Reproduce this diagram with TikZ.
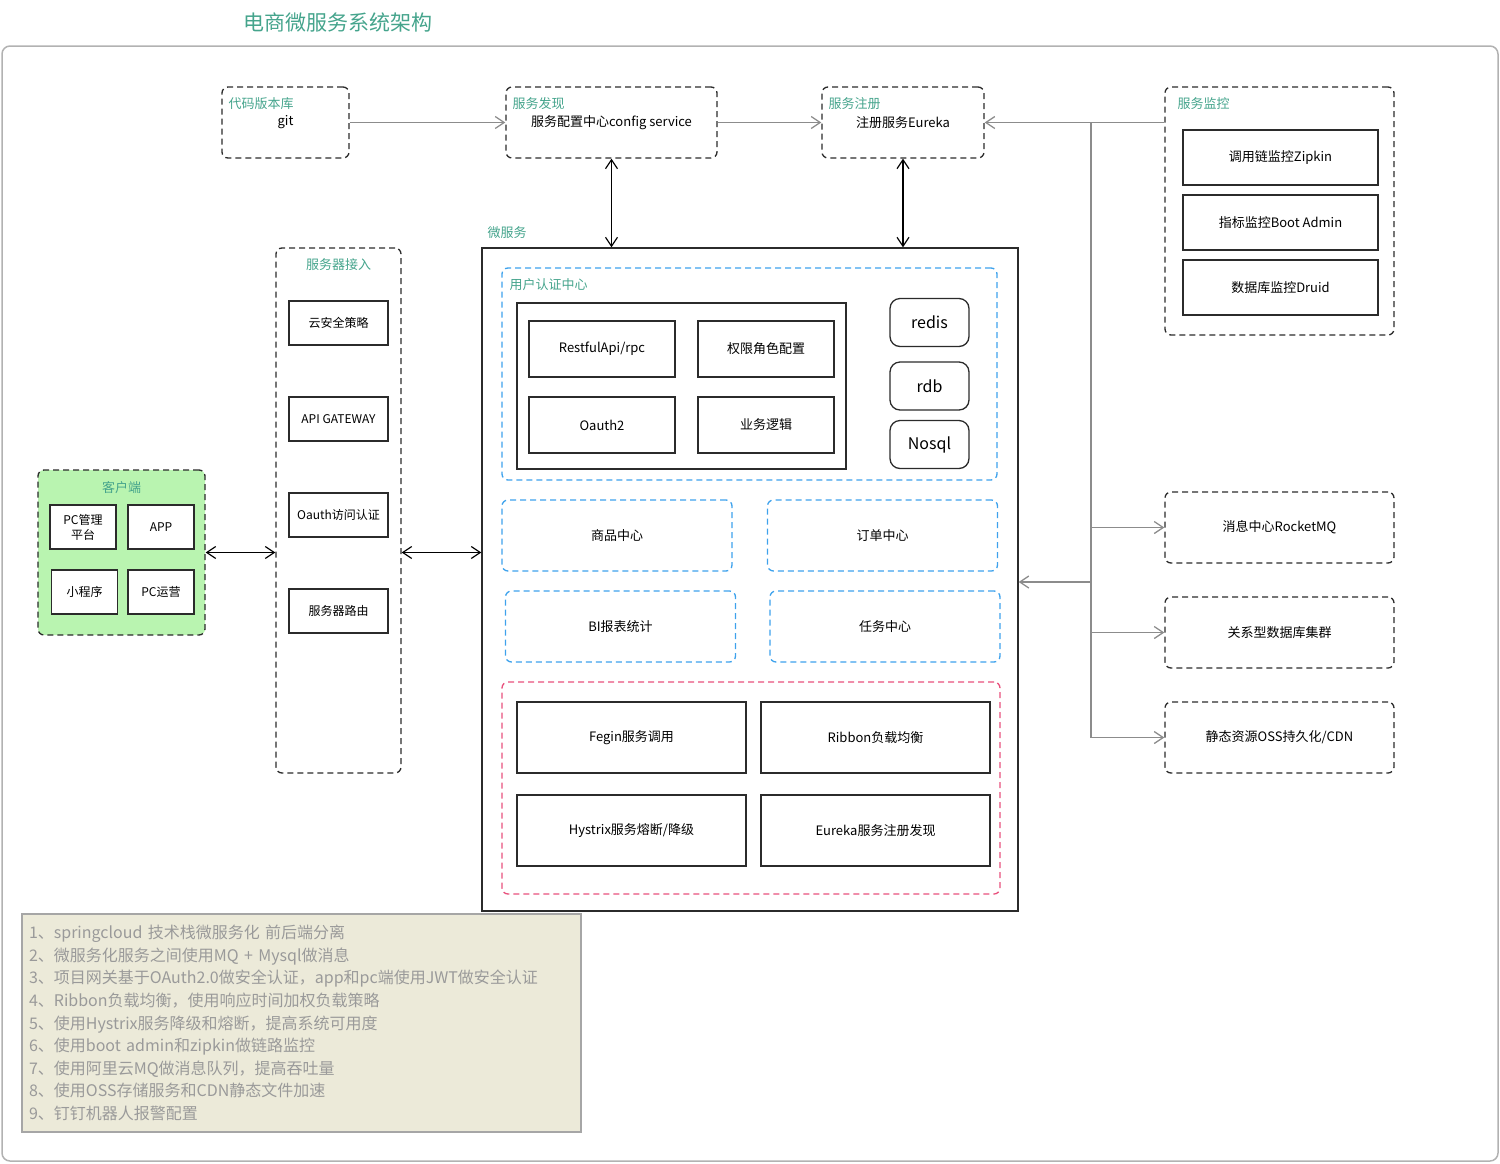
\documentclass[tikz,border=0pt]{standalone}
\usepackage{fontspec}
\setmainfont{Noto Sans CJK SC}
\usepackage{xcolor}
\usepackage{tikz}
\usetikzlibrary{arrows.meta,positioning}

\definecolor{tealtag}{HTML}{45A48C}
\definecolor{bluedash}{HTML}{3EA2EC}
\definecolor{reddash}{HTML}{E8507C}
\definecolor{wiregray}{HTML}{8C8C8C}
\definecolor{notefill}{HTML}{ECEAD9}
\definecolor{notetext}{HTML}{9A9A9A}
\definecolor{clientfill}{HTML}{B9F4B0}
\definecolor{linedark}{HTML}{2B2B2B}

\begin{document}
\begin{tikzpicture}[
  x=1pt, y=-1pt,
  node distance=8.7pt,
  >={Straight Barb[length=9pt,width=12pt]},
  every node/.style={font=\fontsize{13pt}{16pt}\selectfont, inner sep=2pt},
  titletext/.style={text=tealtag, font=\fontsize{21pt}{24pt}\selectfont},
  frame/.style={draw=black!30, line width=1.5pt, rounded corners=8pt},
  grp/.style={draw=linedark, line width=1.3pt, dash pattern=on 6pt off 4pt, rounded corners=6pt},
  bluegrp/.style={draw=bluedash, line width=1.3pt, dash pattern=on 6pt off 4pt, rounded corners=6pt},
  redgrp/.style={draw=reddash, line width=1.3pt, dash pattern=on 6pt off 4pt, rounded corners=6pt},
  box/.style={draw=linedark, line width=1.3pt},
  item/.style={draw=linedark, line width=1.3pt, fill=white, align=center},
  gate/.style={item, minimum width=99pt, minimum height=44pt, font=\fontsize{12pt}{15pt}\selectfont},
  cbox/.style={item, minimum width=66pt, minimum height=44pt, font=\fontsize{12pt}{15pt}\selectfont},
  store/.style={draw=linedark, line width=1.3pt, rounded corners=10pt, minimum width=79pt, minimum height=48pt, font=\fontsize{16pt}{19pt}\selectfont},
  tag/.style={text=tealtag, anchor=north west, inner sep=0pt},
  notebox/.style={draw=black!35, line width=1.2pt, fill=notefill, text=notetext, align=left, inner xsep=7pt, font=\fontsize{16pt}{22.6pt}\selectfont},
  link/.style={->, draw=wiregray, line width=1.3pt},
  wire/.style={draw=wiregray, line width=1.3pt},
  biarrow/.style={<->, draw=black, line width=1.2pt}
]
\useasboundingbox (0,0) rectangle (1500,1163);

\node[titletext] (title) at (338,22) {电商微服务系统架构};
\draw[frame] (2,46) rectangle (1498,1161);

\node[grp, minimum width=127pt, minimum height=71pt] (repo) at (285.5,122.5) {git};
\node[tag] at ([xshift=7pt,yshift=-11pt]repo.north west) {代码版本库};
\node[grp, minimum width=211pt, minimum height=71pt] (disc) at (611.5,122.5) {服务配置中心config service};
\node[tag] at ([xshift=7pt,yshift=-11pt]disc.north west) {服务发现};
\node[grp, minimum width=162pt, minimum height=71pt] (reg) at (903,122.5) {注册服务Eureka};
\node[tag] at ([xshift=7pt,yshift=-11pt]reg.north west) {服务注册};

\node[grp, minimum width=229pt, minimum height=248pt] (mon) at (1279.5,211) {};
\node[tag] at ([xshift=13pt,yshift=-11pt]mon.north west) {服务监控};
\node[item, minimum width=195pt, minimum height=55pt] (zipkin) at (1280.5,157.5) {调用链监控Zipkin};
\node[item, minimum width=195pt, minimum height=55pt, below=of zipkin] (bootadm) {指标监控Boot Admin};
\node[item, minimum width=195pt, minimum height=55pt, below=of bootadm] (druid) {数据库监控Druid};

\node[grp, minimum width=229pt, minimum height=71pt] (mq) at (1279.5,527.5) {消息中心RocketMQ};
\node[grp, minimum width=229pt, minimum height=71pt, below=32.7pt of mq] (rdbms) {关系型数据库集群};
\node[grp, minimum width=229pt, minimum height=71pt, below=32.7pt of rdbms] (oss) {静态资源OSS持久化/CDN};

\node[box, minimum width=536pt, minimum height=663pt] (ms) at (750,579.5) {};
\node[tag, anchor=south west] at ([xshift=6pt,yshift=9pt]ms.north west) {微服务};

\node[bluegrp, minimum width=495pt, minimum height=212pt] (auth) at (749.5,374) {};
\node[tag] at ([xshift=8pt,yshift=-11pt]auth.north west) {用户认证中心};
\node[box, minimum width=329pt, minimum height=166pt] (core) at (681.5,386) {};
\node[item, minimum width=146pt, minimum height=56pt] (restapi) at (602,349) {RestfulApi/rpc};
\node[item, minimum width=136pt, minimum height=56pt] (perm) at (766,349) {权限角色配置};
\node[item, minimum width=146pt, minimum height=56pt] (oauth) at (602,425) {Oauth2};
\node[item, minimum width=136pt, minimum height=56pt] (logic) at (766,425) {业务逻辑};
\node[store] (redis) at (929.5,322.5) {redis};
\node[store] (rdb) at (929.5,386) {rdb};
\node[store] (nosql) at (929.5,444.5) {Nosql};

\node[bluegrp, minimum width=230pt, minimum height=71pt] (goods) at (617,535.5) {商品中心};
\node[bluegrp, minimum width=230pt, minimum height=71pt] (order) at (882.5,535.5) {订单中心};
\node[bluegrp, minimum width=230pt, minimum height=71pt] (bi) at (620.5,626.5) {BI报表统计};
\node[bluegrp, minimum width=230pt, minimum height=71pt] (task) at (885,626.5) {任务中心};

\node[redgrp, minimum width=498pt, minimum height=212pt] (infra) at (751,788) {};
\node[item, minimum width=229pt, minimum height=71pt] (feign) at (631.5,737.5) {Fegin服务调用};
\node[item, minimum width=229pt, minimum height=71pt] (ribbon) at (875.5,737.5) {Ribbon负载均衡};
\node[item, minimum width=229pt, minimum height=71pt] (hystrix) at (631.5,830.5) {Hystrix服务熔断/降级};
\node[item, minimum width=229pt, minimum height=71pt] (eureka) at (875.5,830.5) {Eureka服务注册发现};

\node[grp, minimum width=125pt, minimum height=525pt] (access) at (338.5,510.5) {};
\node[tag, anchor=north] at ([yshift=-11pt]access.north) {服务器接入};
\node[gate] (cloudsec) at (338.5,323) {云安全策略};
\node[gate, below=50.7pt of cloudsec] (gateway) {API GATEWAY};
\node[gate, below=50.7pt of gateway] (oauthgw) {Oauth访问认证};
\node[gate, below=50.7pt of oauthgw] (router) {服务器路由};

\node[grp, fill=clientfill, minimum width=167pt, minimum height=165pt] (client) at (121.5,552.5) {};
\node[tag, anchor=north] at ([yshift=-12pt]client.north) {客户端};
\node[cbox] (pcadmin) at (83,527) {PC管理\\平台};
\node[cbox] (app) at (161,527) {APP};
\node[cbox] (mini) at (84.5,592) {小程序};
\node[cbox] (pcops) at (161,592) {PC运营};

\node[notebox, minimum height=218pt, text width=545pt] (notes) at (301.5,1023) {1、springcloud 技术栈微服务化 前后端分离\\
2、微服务化服务之间使用MQ + Mysql做消息\\
3、项目网关基于OAuth2.0做安全认证，app和pc端使用JWT做安全认证\\
4、Ribbon负载均衡，使用响应时间加权负载策略\\
5、使用Hystrix服务降级和熔断，提高系统可用度\\
6、使用boot admin和zipkin做链路监控\\
7、使用阿里云MQ做消息队列，提高吞吐量\\
8、使用OSS存储服务和CDN静态文件加速\\
9、钉钉机器人报警配置};

\coordinate (bus) at (1091,122.5);
\coordinate (busin) at (1091,582);
\draw[link] (repo) -- (disc);
\draw[link] (disc) -- (reg);
\draw[link] (mon.west |- reg.east) -- (reg.east);
\draw[wire] (bus) -- (bus |- oss.west);
\draw[link] (bus |- mq.west) -- (mq.west);
\draw[link] (bus |- rdbms.west) -- (rdbms.west);
\draw[link] (bus |- oss.west) -- (oss.west);
\draw[link] (busin) -- (busin -| ms.east);
\draw[biarrow] (disc.south) -- (disc.south |- ms.north);
\draw[biarrow] (reg.south) -- (reg.south |- ms.north);
\draw[biarrow] (client.east) -- (client.east -| access.west);
\draw[biarrow] (client.east -| access.east) -- (client.east -| ms.west);
\end{tikzpicture}
\end{document}
